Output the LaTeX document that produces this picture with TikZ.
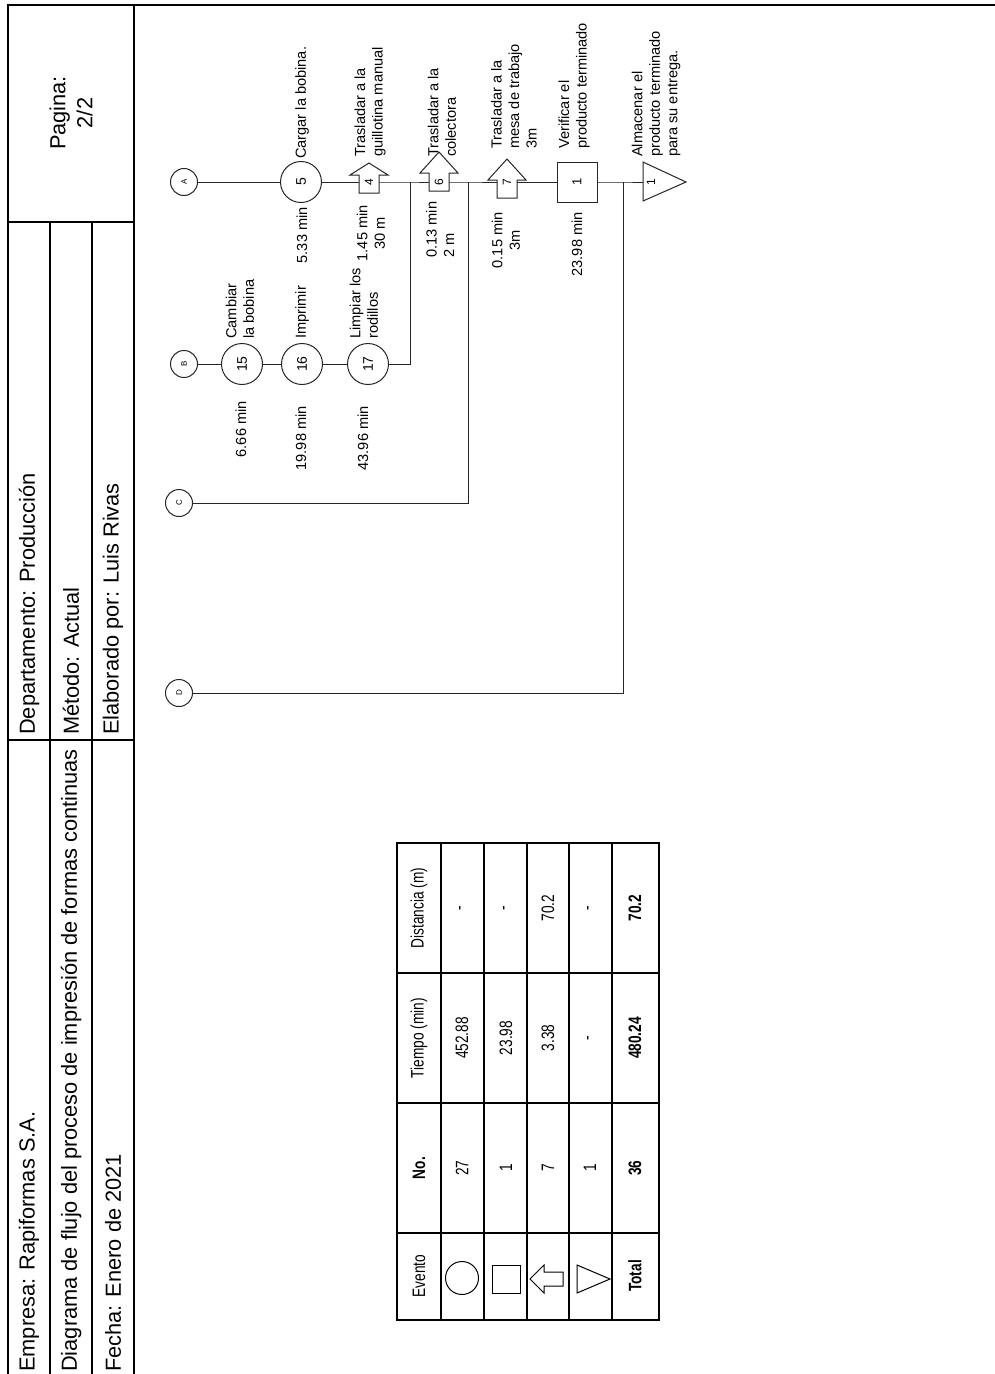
\documentclass[tikz,border=0pt]{standalone}
\usepackage{fontspec}
\setmainfont{Liberation Sans}
\newfontfamily\tabfont[FakeStretch=0.76]{Liberation Sans}
\usetikzlibrary{positioning,calc}

\begin{document}
\begin{tikzpicture}[
    x=1pt, y=-1pt,
    frame/.style={line width=2.5pt},
    cellline/.style={line width=1.6pt},
    flow/.style={draw=black!85, line width=1pt},
    shp/.style={draw=black!85, line width=1pt, fill=white},
    hdr/.style={rotate=90, anchor=west, inner sep=1pt, font=\fontsize{21.8}{27}\selectfont},
    lbl/.style={rotate=90, inner sep=1pt, align=left, font=\fontsize{14.6}{17.5}\selectfont},
    oper/.style={circle, draw=black!85, line width=1pt, fill=white, minimum size=41pt, inner sep=0pt, rotate=90, font=\fontsize{14}{14}\selectfont},
    conn/.style={circle, draw=black!85, line width=1pt, fill=white, minimum size=27pt, inner sep=0pt, rotate=90, font=\fontsize{8}{8}\selectfont},
    insp/.style={rectangle, draw=black!85, line width=1pt, fill=white, minimum size=40pt, inner sep=0pt, rotate=90, font=\fontsize{13}{13}\selectfont},
    num/.style={rectangle, inner sep=0pt, minimum width=8pt, minimum height=20pt, rotate=90, font=\fontsize{12}{12}\selectfont},
    tab/.style={rotate=90, inner sep=0pt, font=\tabfont\fontsize{18}{18}\selectfont},
    tabb/.style={tab, font=\tabfont\bfseries\fontsize{18}{18}\selectfont}
]
\useasboundingbox (0,0) rectangle (995,1374);

% encabezado
\draw[frame] (995,5) -- (8,5) -- (8,1374);
\draw[cellline] (134,5) -- (134,1374);
\draw[cellline] (8,222) -- (134,222);
\draw[cellline] (50,222) -- (50,1374);
\draw[cellline] (92,222) -- (92,1374);
\draw[cellline] (8,740) -- (134,740);

\node[hdr, anchor=center, align=center] (pag) at (71,113) {Pagina:\\2/2};
\node[hdr] (emp) at (29,1373) {Empresa: Rapiformas S.A.};
\node[hdr] (diag) at (71,1373) {Diagrama de flujo del proceso de impresión de formas continuas};
\node[hdr] (fecha) at (113,1373) {Fecha: Enero de 2021};
\node[hdr] (dep) at (29,736) {Departamento: Producción};
\node[hdr] (met) at (71,736) {Método: Actual};
\node[hdr] (elab) at (113,736) {Elaborado por: Luis Rivas};

% simbolos de transporte y almacen
\draw[shp] (369,163) -- (388,175) -- (379,175) -- (379,193) -- (359,193) -- (359,175) -- (350,175) -- cycle;
\draw[shp] (439,152) -- (458,173) -- (449,173) -- (449,191) -- (429,191) -- (429,173) -- (420,173) -- cycle;
\draw[shp] (507,159) -- (526,180) -- (517,180) -- (517,198) -- (497,198) -- (497,180) -- (488,180) -- cycle;
\draw[shp] (643,162) -- (686,182) -- (643,201) -- cycle;

% flujo principal
\node[conn] (A) at (184,182) {A};
\node[oper] (c5) at (301,182) {5};
\node[num] (t4) at (369,182) {4};
\node[num] (t6) at (439,182) {6};
\node[num] (t7) at (507,182) {7};
\node[insp] (s1) at (577,182) {1};
\node[num, minimum height=16pt] (v1) at (651,182) {1};

\node[conn] (B) at (184,364) {B};
\node[oper] (c15) at (242,364) {15};
\node[oper] (c16) at (302,364) {16};
\node[oper] (c17) at (368,364) {17};
\node[conn] (C) at (179,503) {C};
\node[conn] (D) at (179,693) {D};

\coordinate (j1) at (410,182);
\coordinate (j2) at (468,182);
\coordinate (j3) at (623,182);

\draw[flow] (A) -- (c5) -- (t4) -- (j1) -- (t6) -- (j2) -- (t7) -- (s1) -- (j3) -- (v1);
\draw[flow] (B) -- (c15) -- (c16) -- (c17) -| (j1);
\draw[flow] (C) -| (j2);
\draw[flow] (D) -| (j3);

% textos de las actividades
\node[lbl, anchor=west] (l5) at (302,160) {Cargar la bobina.};
\node[lbl, anchor=east] (m5) at (302,206) {5.33 min};
\node[lbl, anchor=west] (l4) at (370,158) {Trasladar a la\\guillotina manual};
\node[lbl, anchor=east, align=center] (m4) at (371,204) {1.45 min\\30 m};
\node[lbl, anchor=west] (l15) at (240,340) {Cambiar\\la bobina};
\node[lbl, anchor=east] (m15) at (241,400) {6.66 min};
\node[lbl, anchor=west] (l16) at (302,340) {Imprimir};
\node[lbl, anchor=east] (m16) at (301,405) {19.98 min};
\node[lbl, anchor=west] (l17) at (364,340) {Limpiar los\\rodillos};
\node[lbl, anchor=east] (m17) at (363,405) {43.96 min};
\node[lbl, anchor=west] (l6) at (442,158) {Trasladar a la\\colectora};
\node[lbl, anchor=west] (m6) at (440,259) {0.13 min\\2 m};
\node[lbl, anchor=west] (l7) at (514,150) {Trasladar a la\\mesa de trabajo\\3m};
\node[lbl, anchor=east, align=center] (m7) at (506,211) {0.15 min\\3m};
\node[lbl, anchor=west] (l1) at (574,150) {Verificar el\\producto terminado};
\node[lbl, anchor=east] (m1) at (577,211) {23.98 min};
\node[lbl, anchor=west] (lv) at (656,158) {Almacenar el\\producto terminado\\para su entrega.};

% tabla resumen
\draw[line width=2pt] (397,843) rectangle (659,1320);
\draw[line width=1.4pt] (441,843) -- (441,1320) (484,843) -- (484,1320) (527,843) -- (527,1320)
    (569,843) -- (569,1320) (612,843) -- (612,1320);
\draw[line width=1.4pt] (397,973) -- (659,973) (397,1103) -- (659,1103) (397,1233) -- (659,1233);

\node[tab] (h1) at (419,1276) {Evento};
\node[tabb] (h2) at (419,1168) {No.};
\node[tab] (h3) at (419,1038) {Tiempo (min)};
\node[tab] (h4) at (419,908) {Distancia (m)};

\draw[line width=1pt] (462,1278) circle (16.5);
\draw[line width=1pt] (492,1265) rectangle (520,1293);
\draw[line width=1pt] (530,1279) -- (544,1265) -- (544,1272) -- (563,1272) -- (563,1286) -- (544,1286) -- (544,1293) -- cycle;
\draw[line width=1pt] (577,1265) -- (610,1279) -- (577,1293) -- cycle;

\node[tab] (n1) at (462,1168) {27};
\node[tab] (ti1) at (462,1038) {452.88};
\node[tab] (d1) at (462,908) {-};
\node[tab] (n2) at (506,1168) {1};
\node[tab] (ti2) at (506,1038) {23.98};
\node[tab] (d2) at (506,908) {-};
\node[tab] (n3) at (548,1168) {7};
\node[tab] (ti3) at (548,1038) {3.38};
\node[tab] (d3) at (548,908) {70.2};
\node[tab] (n4) at (590,1168) {1};
\node[tab] (ti4) at (590,1038) {-};
\node[tab] (d4) at (590,908) {-};
\node[tabb] (tot) at (635,1276) {Total};
\node[tabb] (n5) at (635,1168) {36};
\node[tabb] (ti5) at (635,1038) {480.24};
\node[tabb] (d5) at (635,908) {70.2};

\end{tikzpicture}
\end{document}
